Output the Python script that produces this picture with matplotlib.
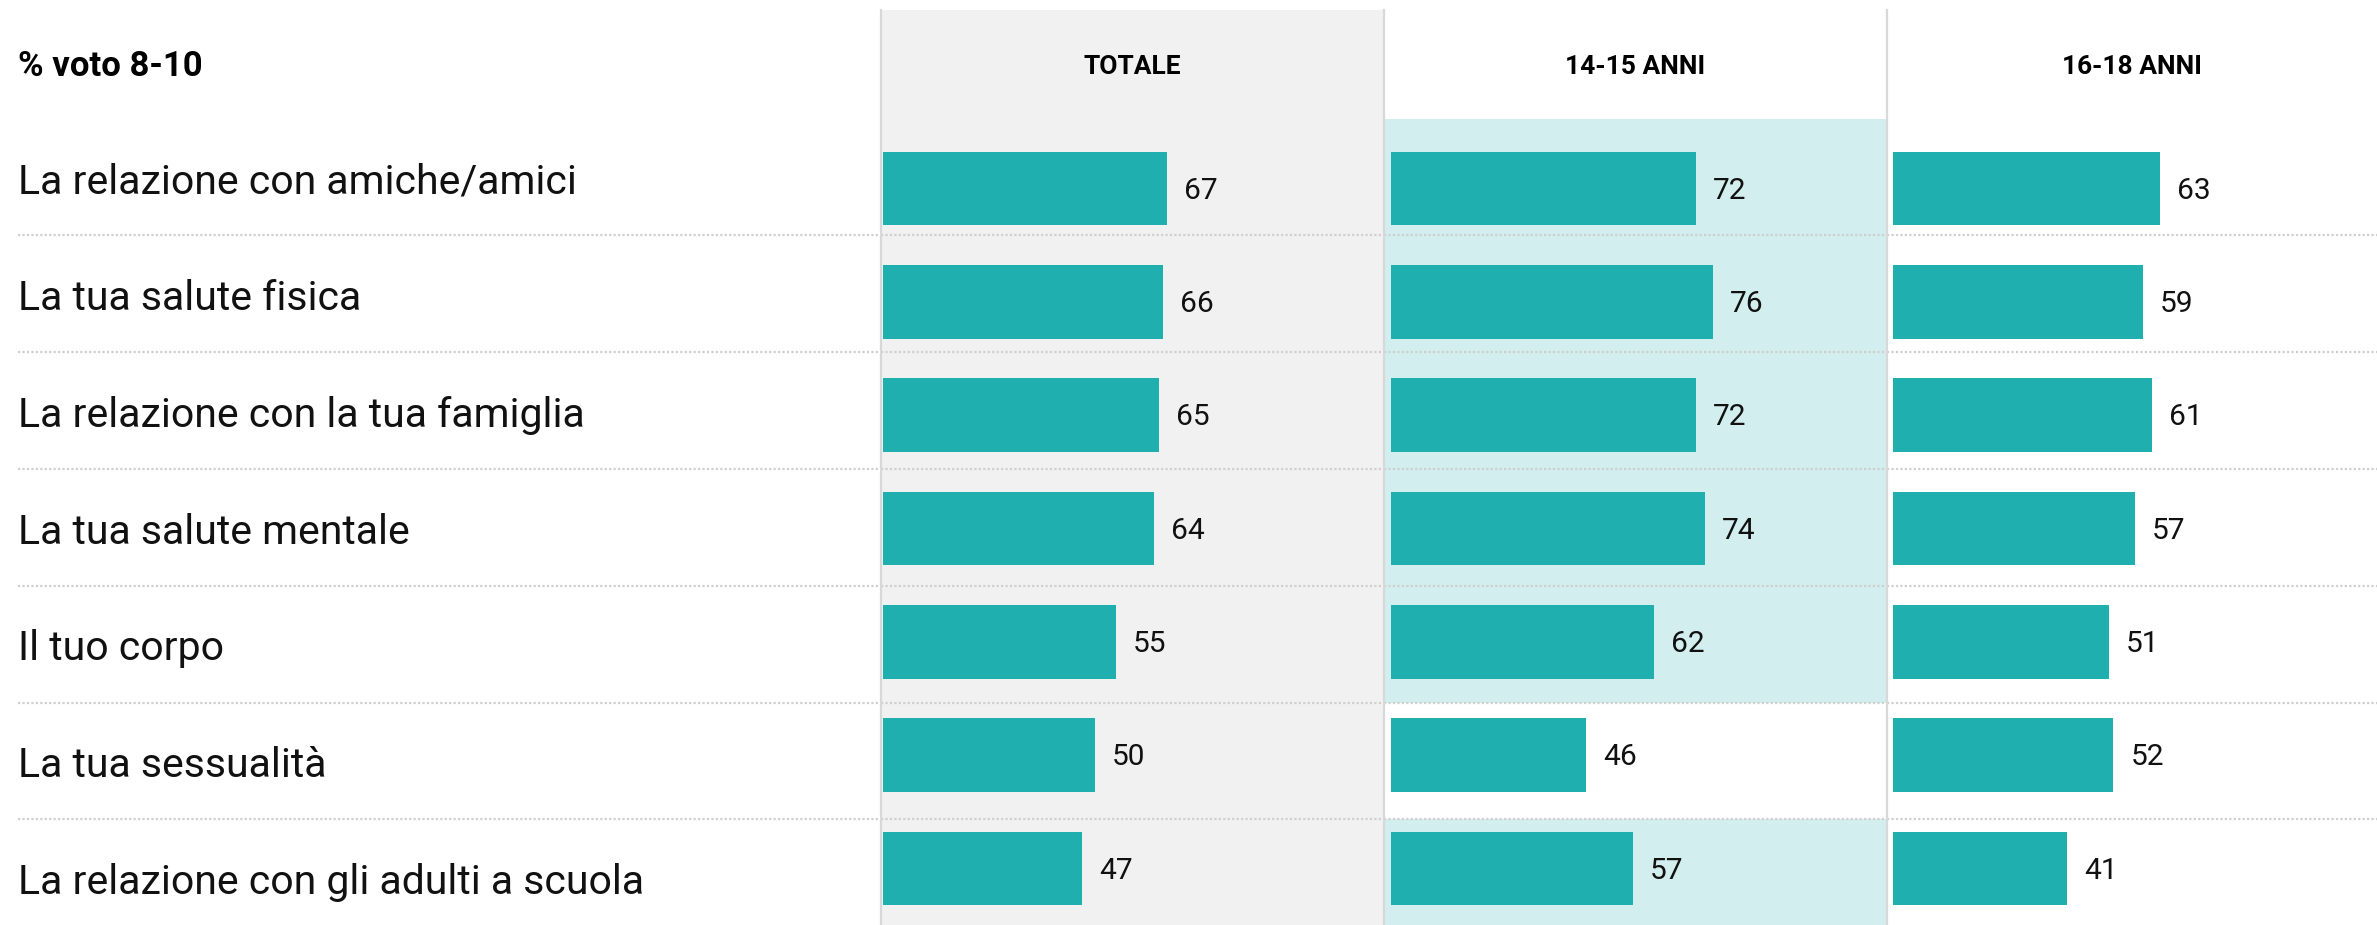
import matplotlib
matplotlib.use("Agg")
import matplotlib.pyplot as plt
from matplotlib.transforms import blended_transform_factory

# ── data ──────────────────────────────────────────────────────────────────────
TITLE = "% voto 8-10"
CATEGORIES = [
    "La relazione con amiche/amici",
    "La tua salute fisica",
    "La relazione con la tua famiglia",
    "La tua salute mentale",
    "Il tuo corpo",
    "La tua sessualità",
    "La relazione con gli adulti a scuola",
]
COLUMNS = ["TOTALE", "14-15 ANNI", "16-18 ANNI"]
TOTALE = [67, 66, 65, 64, 55, 50, 47]
ANNI_14_15 = [72, 76, 72, 74, 62, 46, 57]
ANNI_16_18 = [63, 59, 61, 57, 51, 52, 41]

# ── style / layout (pixels of the 2377x925 output) ────────────────────────────
W, H = 2377, 925
BAR = "#1FAFAE"
GREY_BG = "#F1F1F1"
TEAL_BG = "#D2EEEE"
DIVIDER = "#D8D8D8"
DOTS = "#CFCFCF"
PX_PER_UNIT = 4.24
PANEL_EDGES = [881, 1384, 1887, W]
BAR_OFFSET_PX = [2, 7, 6]
TOP_PX = 10

# bar grid (rows of 113.3 px, last bar centred 55 px above the bottom)
BAR_ROW_PX = 113.3
BAR_YLIM = (6.5, 6.5 - (H - TOP_PX) / BAR_ROW_PX)
# label / separator grid (rows of 116.8 px, first label centred at 177 px)
LAB_ROW_PX = 116.8
LAB_FIRST_PX = 177
LAB_YLIM = ((H - LAB_FIRST_PX) / LAB_ROW_PX, (TOP_PX - LAB_FIRST_PX) / LAB_ROW_PX)
HEADER_Y = (67 - LAB_FIRST_PX) / LAB_ROW_PX
LABEL_NUDGE = 0.04   # Roboto sits a bit higher than the original face

plt.rcParams["font.family"] = ["Roboto", "DejaVu Sans"]


def px_box(left, right):
    return [left / W, 0, (right - left) / W, (H - TOP_PX) / H]


def clean(ax, ylim):
    ax.set_xticks([])
    ax.set_yticks([])
    for s in ax.spines.values():
        s.set_visible(False)
    ax.set_ylim(*ylim)


fig = plt.figure(figsize=(W / 100, H / 100), dpi=100)
rows = range(len(CATEGORIES))
separators = [i + 0.5 for i in rows][:-1]

# label column
ax0 = fig.add_axes(px_box(0, PANEL_EDGES[0]))
clean(ax0, LAB_YLIM)
ax0.set_xlim(0, 1)
lx = 18 / PANEL_EDGES[0]
for i, cat in enumerate(CATEGORIES):
    ax0.text(lx, i + LABEL_NUDGE, cat, fontsize=29.5, va="center", ha="left",
             color="#111111")
ax0.text(lx, HEADER_Y, TITLE, fontsize=25, fontweight="bold", va="center", ha="left")
for y in separators:
    ax0.axhline(y, xmin=lx, color=DOTS, lw=1.6, ls=(0, (1, 1)), zorder=1)

# highlight 14-15 where it beats 16-18
highlight = [a > b for a, b in zip(ANNI_14_15, ANNI_16_18)]

series = [TOTALE, ANNI_14_15, ANNI_16_18]
for k, (name, vals) in enumerate(zip(COLUMNS, series)):
    left, right = PANEL_EDGES[k], PANEL_EDGES[k + 1]
    ax = fig.add_axes(px_box(left, right))
    clean(ax, BAR_YLIM)
    off = BAR_OFFSET_PX[k] / PX_PER_UNIT
    ax.set_xlim(-off, (right - left) / PX_PER_UNIT - off)
    ax.spines["left"].set_visible(True)
    ax.spines["left"].set_color(DIVIDER)
    ax.spines["left"].set_linewidth(1.6)
    ax.spines["left"].set_zorder(3)
    if k == 0:
        ax.set_facecolor(GREY_BG)

    # backgrounds and separators follow the label grid
    lab_tr = blended_transform_factory(ax.transAxes, ax0.transData)
    if k == 1:
        for i, h in enumerate(highlight):
            if h:
                ax.fill_between([0, 1], i - 0.5, i + 0.5, transform=lab_tr,
                                color=TEAL_BG, lw=0, zorder=0)
    for y in separators:
        ax.plot([0, 1], [y, y], transform=lab_tr, color=DOTS, lw=1.6,
                ls=(0, (1, 1)), zorder=1)

    ax.barh(list(rows), vals, height=0.65, color=BAR, zorder=2)
    for i, v in enumerate(vals):
        ax.text(v + 4, i + 0.02, f"{v}", fontsize=21.5, va="center", ha="left",
                color="#111111")
    ax.text(0.5, HEADER_Y, name, transform=lab_tr,
            fontsize=19, fontweight="bold", va="center", ha="center")

fig.savefig("out.png", dpi=100)
